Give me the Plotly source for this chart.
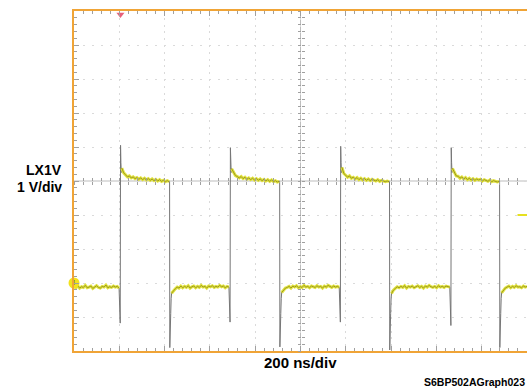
import numpy as np
import plotly.graph_objects as go

# ---- data (time in ns, voltage in V) ----
RISE_T = [205, 690, 1177, 1665]
FALL_T = [422, 908, 1393, 1879]
RISE_DIP_V = [-1.18, -1.15, -1.15, -1.25]
RISE_PEAK_V = [4.05, 3.98, 4.02, 3.98]
FALL_MIN_V = [-1.9, -1.88, -1.97, -1.9]
RISE_RING_V = [3.55, 3.25]
FALL_RING_V = [-1.2, -1.7, -0.9, -0.45]

LOW0_V = [-0.10, -0.14, -0.08, -0.15, -0.11, -0.13, -0.07, -0.14, -0.12, -0.09, -0.16, -0.11, -0.08,
          -0.13, -0.15, -0.10, -0.12, -0.06, -0.14, -0.11, -0.13, -0.09, -0.12, -0.10, -0.15]
HIGH1_V = [3.38, 3.24, 3.18, 3.12, 3.15, 3.09, 3.12, 3.07, 3.10, 3.05, 3.09, 3.04, 3.08, 3.03, 3.07,
           3.02, 3.06, 3.01, 3.05, 3.00, 3.04, 2.99, 3.02, 2.98, 3.01, 2.98]
LOW1_V = [-0.30, -0.22, -0.17, -0.12, -0.15, -0.09, -0.14, -0.10, -0.13, -0.08, -0.15, -0.11, -0.09,
          -0.14, -0.10, -0.13, -0.07, -0.12, -0.10, -0.15, -0.09, -0.11, -0.08, -0.13, -0.10, -0.12,
          -0.07, -0.11, -0.09, -0.14, -0.10, -0.12]
HIGH2_V = [3.36, 3.25, 3.16, 3.13, 3.09, 3.13, 3.07, 3.11, 3.05, 3.09, 3.04, 3.08, 3.03, 3.07, 3.02,
           3.06, 3.01, 3.05, 3.00, 3.04, 2.99, 3.03, 2.98, 3.01, 2.97, 2.99]
LOW2_V = [-0.28, -0.20, -0.15, -0.13, -0.10, -0.15, -0.09, -0.12, -0.08, -0.14, -0.11, -0.13, -0.07,
          -0.12, -0.10, -0.14, -0.09, -0.11, -0.13, -0.08, -0.12, -0.10, -0.15, -0.09, -0.12, -0.07,
          -0.11, -0.13, -0.09, -0.12, -0.10, -0.13]
HIGH3_V = [3.40, 3.22, 3.17, 3.11, 3.15, 3.08, 3.11, 3.06, 3.10, 3.04, 3.08, 3.03, 3.07, 3.02, 3.06,
           3.01, 3.05, 3.03, 3.00, 3.04, 2.99, 3.02, 3.00, 2.98, 3.00, 2.98]
LOW3_V = [-0.31, -0.21, -0.16, -0.11, -0.14, -0.10, -0.13, -0.08, -0.15, -0.10, -0.12, -0.09, -0.14,
          -0.11, -0.08, -0.13, -0.10, -0.15, -0.09, -0.12, -0.07, -0.11, -0.13, -0.10, -0.14, -0.08,
          -0.12, -0.10, -0.13, -0.09, -0.11, -0.12]
HIGH4_V = [3.37, 3.24, 3.15, 3.14, 3.08, 3.12, 3.06, 3.10, 3.04, 3.08, 3.03, 3.07, 3.02, 3.06, 3.03,
           3.05, 3.00, 3.04, 3.01, 2.99, 3.03, 2.98, 3.01, 2.99, 2.97, 2.99]
LOW4_V = [-0.29, -0.20, -0.15, -0.12, -0.09, -0.14, -0.10, -0.13, -0.08, -0.12, -0.11, -0.14, -0.09,
          -0.12, -0.10]

HIGH_V = [HIGH1_V, HIGH2_V, HIGH3_V, HIGH4_V]
LOW_V = [LOW1_V, LOW2_V, LOW3_V, LOW4_V]

GROUND_V = 0.0
TRIG_LEVEL_V = 2.0
TRIG_T = 205
T_END = 2000

ORANGE = "#f0a436"
FONT = "Liberation Sans, Arial, Helvetica, sans-serif"

# ---- build waveform ----
t_all, v_all = [], []
pt, pv = [], []


def add_plateau(t0, t1, vals):
    ts = np.linspace(t0, t1, len(vals)).tolist()
    t_all.extend(ts)
    v_all.extend(vals)
    pt.extend(ts + [None])
    pv.extend(list(vals) + [None])


add_plateau(0, RISE_T[0] - 6, LOW0_V)
for i in range(4):
    r, f = RISE_T[i], FALL_T[i]
    t_all.extend([r - 1, r + 0.5, r + 2, r + 4])
    v_all.extend([RISE_DIP_V[i], RISE_PEAK_V[i]] + RISE_RING_V)
    add_plateau(r + 6, f - 2, HIGH_V[i])
    t_all.extend([f, f + 1, f + 2, f + 3.5, f + 5, f + 7])
    v_all.extend([HIGH_V[i][-1], FALL_MIN_V[i]] + FALL_RING_V)
    nxt = RISE_T[i + 1] - 6 if i < 3 else T_END
    add_plateau(f + 9, nxt, LOW_V[i])

fig = go.Figure()
fig.add_trace(go.Scatter(x=t_all, y=v_all, mode="lines",
                         line=dict(color="#767676", width=1), hoverinfo="skip", showlegend=False))
fig.add_trace(go.Scatter(x=pt, y=pv, mode="lines", connectgaps=False,
                         line=dict(color="#e2e240", width=3), hoverinfo="skip", showlegend=False))
fig.add_trace(go.Scatter(x=pt, y=pv, mode="lines", connectgaps=False,
                         line=dict(color="#9a9a1e", width=1), hoverinfo="skip", showlegend=False))
# ground marker
fig.add_trace(go.Scatter(x=[0], y=[GROUND_V], mode="markers+text", text=["1"],
                         textposition="middle center", textfont=dict(size=7, color="#555"),
                         marker=dict(symbol="circle", size=11, color="#f2e21c"),
                         cliponaxis=False, showlegend=False, hoverinfo="skip"))
# trigger position marker
fig.add_trace(go.Scatter(x=[TRIG_T], y=[7.9], mode="markers",
                         marker=dict(symbol="triangle-down", size=7, color="#e8607a"),
                         cliponaxis=False, showlegend=False, hoverinfo="skip"))
# dummy traces to realise the centre tick axes
fig.add_trace(go.Scatter(x=[None], y=[None], xaxis="x2", yaxis="y2", showlegend=False))
fig.add_trace(go.Scatter(x=[None], y=[None], xaxis="x3", yaxis="y3", showlegend=False))

# centre cross-hair and trigger-level marker
fig.add_shape(type="line", x0=0, x1=T_END, y0=3, y1=3, line=dict(color="#bdbdbd", width=1), layer="below")
fig.add_shape(type="line", x0=1000, x1=1000, y0=-2, y1=8, line=dict(color="#bdbdbd", width=1), layer="below")
fig.add_shape(type="line", x0=1958, x1=T_END, y0=TRIG_LEVEL_V, y1=TRIG_LEVEL_V,
              line=dict(color="#e6e020", width=2))

tick_c = "#a0a0a0"
grid_c = "#dadada"
common_hidden = dict(showticklabels=False, showgrid=False, zeroline=False, showline=False)

fig.update_layout(
    width=527, height=390,
    margin=dict(l=74, r=0, t=11, b=39),
    paper_bgcolor="white", plot_bgcolor="white",
    showlegend=False,
    xaxis=dict(range=[0, T_END], tick0=0, dtick=200, showticklabels=False,
               showgrid=True, gridcolor=grid_c, gridwidth=1, griddash="2px,4.8px",
               zeroline=False, showline=True, linecolor=ORANGE, linewidth=2, mirror="ticks",
               ticks="inside", ticklen=5, tickcolor=tick_c,
               minor=dict(dtick=40, ticks="inside", ticklen=3, tickcolor=tick_c, showgrid=False)),
    yaxis=dict(range=[-2, 8], tick0=0, dtick=1, showticklabels=False,
               showgrid=True, gridcolor=grid_c, gridwidth=1, griddash="2px,7px",
               zeroline=False, showline=True, linecolor=ORANGE, linewidth=2,
               ticks="inside", ticklen=5, tickcolor=tick_c,
               minor=dict(dtick=0.2, ticks="inside", ticklen=3, tickcolor=tick_c, showgrid=False)),
    xaxis2=dict(overlaying="x", anchor="free", position=0.5, range=[0, T_END], tick0=0, dtick=40,
                ticks="outside", ticklen=3, tickcolor=tick_c, **common_hidden),
    xaxis3=dict(overlaying="x", anchor="free", position=0.5, range=[0, T_END], tick0=0, dtick=40,
                ticks="inside", ticklen=3, tickcolor=tick_c, **common_hidden),
    yaxis2=dict(overlaying="y", anchor="free", position=0.5, range=[-2, 8], tick0=0, dtick=0.2,
                ticks="outside", ticklen=3, tickcolor=tick_c, **common_hidden),
    yaxis3=dict(overlaying="y", anchor="free", position=0.5, range=[-2, 8], tick0=0, dtick=0.2,
                ticks="inside", ticklen=3, tickcolor=tick_c, **common_hidden),
)

ann_font = dict(family=FONT, size=14, color="black")
fig.add_annotation(text="<b>LX1V</b>", xref="paper", yref="paper", x=-0.024, y=0.533,
                   xanchor="right", yanchor="middle", showarrow=False, font=ann_font, borderpad=0)
fig.add_annotation(text="<b>1 V/div</b>", xref="paper", yref="paper", x=-0.024, y=0.481,
                   xanchor="right", yanchor="middle", showarrow=False, font=ann_font, borderpad=0)
fig.add_annotation(text="<b>200 ns/div</b>", xref="paper", yref="paper", x=0.5, y=-0.035,
                   xanchor="center", yanchor="middle", showarrow=False,
                   font=dict(family=FONT, size=15, color="black"))
fig.add_annotation(text="<b>S6BP502AGraph023</b>", xref="paper", yref="paper", x=0.999, y=-0.091,
                   xanchor="right", yanchor="middle", showarrow=False,
                   font=dict(family=FONT, size=10.5, color="black"))

fig.write_html("out.html")
